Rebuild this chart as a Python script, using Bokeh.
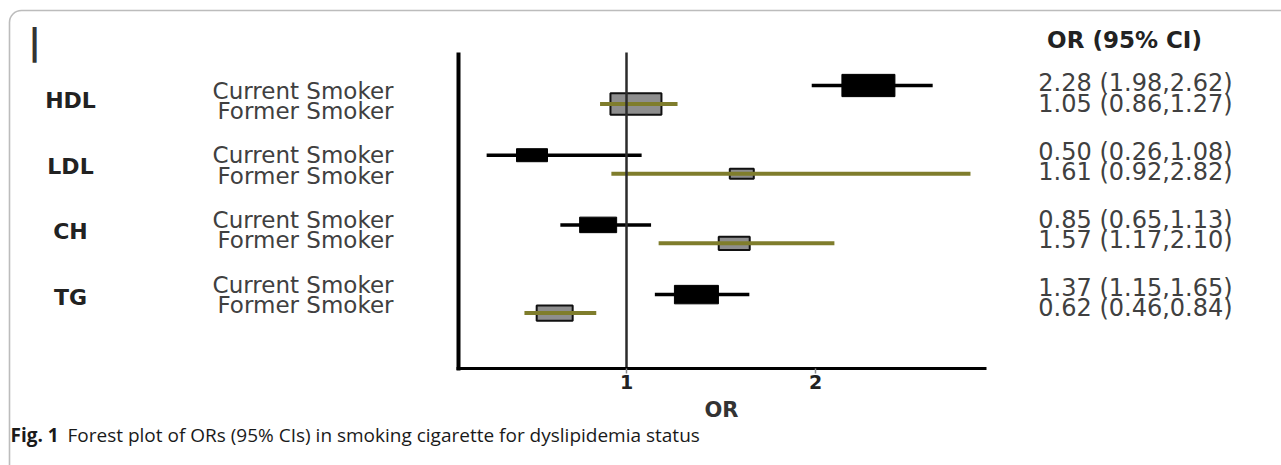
from bokeh.plotting import figure
from bokeh.models import ColumnDataSource, Range1d, LinearAxis, FixedTicker, BoxAnnotation
from bokeh.core.properties import value
from bokeh.embed import file_html
from bokeh.resources import INLINE

# ---------------- data ----------------
groups = ["HDL", "LDL", "CH", "TG"]
statuses = ["Current Smoker", "Former Smoker"]
row_group = ["HDL", "HDL", "LDL", "LDL", "CH", "CH", "TG", "TG"]
row_status = ["Current Smoker", "Former Smoker"] * 4
or_est = [2.28, 1.05, 0.50, 1.61, 0.85, 1.57, 1.37, 0.62]
ci_low = [1.98, 0.86, 0.26, 0.92, 0.65, 1.17, 1.15, 0.46]
ci_high = [2.62, 1.27, 1.08, 2.82, 1.13, 2.10, 1.65, 0.84]
box_weight = [53, 51, 31, 24, 37, 31, 44, 36]   # relative box size
x_ticks = [1, 2]
axis_title = "OR"
col_header = "OR (95% CI)"
corner_mark = "|"
caption_bold = "Fig. 1"
caption_text = "Forest plot of ORs (95% CIs) in smoking cigarette for dyslipidemia status"

# ---------------- layout ----------------
W, H = 1281, 465
OFF = 0                               # page offset of the canvas
X1_PX, X_UNIT_PX = 626.0, 189.0       # page px of OR = 1, px per OR unit
Y0_PX, GROUP_PX = 85.0, 69.7          # page px of first row, px per group
MEMBER_STEP = 0.265                   # offset of second row within a group
LABEL_FONT = value("DejaVu Sans")
CAPTION_FONT = value("Open Sans")


def px_x(px):
    return 1 + (px - X1_PX) / X_UNIT_PX


def px_y(py):
    return (py - Y0_PX) / GROUP_PX


p = figure(width=W, height=H, title=None,
           x_range=Range1d(px_x(OFF), px_x(OFF + W)),
           y_range=Range1d(px_y(OFF + H), px_y(OFF)),
           x_axis_type=None, y_axis_type=None,
           min_border=0, min_border_left=0, min_border_right=0,
           min_border_top=0, min_border_bottom=0,
           toolbar_location=None, output_backend="svg")
p.outline_line_color = None
p.background_fill_color = "white"
p.border_fill_color = "white"

# figure frame (rounded box)
p.add_layout(BoxAnnotation(left=px_x(9), right=px_x(1330), top=px_y(10), bottom=px_y(530),
                           fill_alpha=0, line_color="#222222", line_width=1.6,
                           border_radius=12, level="underlay"))

gi = [groups.index(g) for g in row_group]
mi = [statuses.index(s) for s in row_status]
ys = [g + MEMBER_STEP * m for g, m in zip(gi, mi)]

cur = [i for i in range(len(or_est)) if mi[i] == 0]
frm = [i for i in range(len(or_est)) if mi[i] == 1]


def src(idx):
    return ColumnDataSource(dict(
        x=[or_est[i] for i in idx], y=[ys[i] for i in idx],
        lo=[ci_low[i] for i in idx], hi=[ci_high[i] for i in idx],
        bw=[box_weight[i] for i in idx], bh=[box_weight[i] * 0.42 for i in idx]))


s_cur = src(cur)
s_frm = src(frm)

# current smokers: black whisker + black box
p.segment(x0="lo", y0="y", x1="hi", y1="y", source=s_cur, line_width=3.5, line_color="black")
p.rect(x="x", y="y", width="bw", height="bh", width_units="screen", height_units="screen",
       source=s_cur, fill_color="black", line_color="black", line_width=1)
# former smokers: grey box + olive whisker on top
p.rect(x="x", y="y", width="bw", height="bh", width_units="screen", height_units="screen",
       source=s_frm, fill_color="#8e8e8e", line_color="#111111", line_width=2)
p.segment(x0="lo", y0="y", x1="hi", y1="y", source=s_frm, line_width=4, line_color="#7f7d2c")

# null line at OR = 1
p.segment(x0=[1], y0=[px_y(52)], x1=[1], y1=[px_y(368)], line_width=2.5, line_color="#2b2b2b")

# axes
xaxis = LinearAxis(fixed_location=px_y(368), bounds=(px_x(456), px_x(986)),
                   ticker=FixedTicker(ticks=x_ticks), axis_label=axis_title)
xaxis.axis_line_width = 3
xaxis.axis_line_color = "black"
xaxis.major_tick_in = 0
xaxis.major_tick_out = 5
xaxis.major_tick_line_color = "#8a8a8a"
xaxis.major_tick_line_width = 1.5
xaxis.minor_tick_line_color = None
xaxis.major_label_text_font = "DejaVu Sans"
xaxis.major_label_text_font_style = "bold"
xaxis.major_label_text_font_size = "19px"
xaxis.major_label_text_color = "#222222"
xaxis.major_label_standoff = 1
xaxis.axis_label_text_font = "DejaVu Sans"
xaxis.axis_label_text_font_style = "bold"
xaxis.axis_label_text_font_size = "21px"
xaxis.axis_label_text_color = "#333333"
xaxis.axis_label_standoff = 6
p.add_layout(xaxis, "below")

yaxis = LinearAxis(fixed_location=px_x(457.5), bounds=(px_y(52), px_y(370)),
                   ticker=FixedTicker(ticks=[]))
yaxis.axis_line_width = 4
yaxis.axis_line_color = "black"
yaxis.major_tick_line_color = None
yaxis.minor_tick_line_color = None
yaxis.major_label_text_font_size = "0px"
p.add_layout(yaxis, "left")

# group labels
p.text(x=[px_x(70)] * len(groups), y=[0.215 + 0.94 * k for k in range(len(groups))], text=groups,
       text_font=LABEL_FONT, text_font_style="bold", text_font_size=value("22px"),
       text_color="#222222", text_align="center", text_baseline="middle")

# row labels
p.text(x=[px_x(393)] * len(row_status), y=[0.072 + 0.928 * g + 0.294 * m for g, m in zip(gi, mi)],
       text=row_status, text_font=LABEL_FONT, text_font_size=value("23px"),
       text_color="#404040", text_align="right", text_baseline="middle")

# OR (95% CI) column
ci_text = [f"{o:.2f} ({l:.2f},{h:.2f})" for o, l, h in zip(or_est, ci_low, ci_high)]
p.text(x=[px_x(1135)] * len(ci_text), y=[-0.029 + 0.976 * g + 0.30 * m for g, m in zip(gi, mi)],
       text=ci_text, text_font=LABEL_FONT, text_font_size=value("24px"),
       text_color="#404040", text_align="center", text_baseline="middle")
p.text(x=[px_x(1124)], y=[px_y(39)], text=[col_header],
       text_font=LABEL_FONT, text_font_style="bold", text_font_size=value("23px"),
       text_color="#222222", text_align="center", text_baseline="middle")

# stray mark top-left
p.text(x=[px_x(34)], y=[px_y(41)], text=[corner_mark],
       text_font=LABEL_FONT, text_font_style="bold", text_font_size=value("36px"),
       text_color="#333333", text_align="center", text_baseline="middle")

# caption
p.text(x=[px_x(10)], y=[px_y(434)], text=[caption_bold],
       text_font=CAPTION_FONT, text_font_style="bold", text_font_size=value("19px"),
       text_color="#1a1a1a", text_align="left", text_baseline="middle")
p.text(x=[px_x(67)], y=[px_y(434)], text=[caption_text],
       text_font=CAPTION_FONT, text_font_size=value("19px"),
       text_color="#1a1a1a", text_align="left", text_baseline="middle")

open("out.html", "w").write(file_html(p, INLINE))
